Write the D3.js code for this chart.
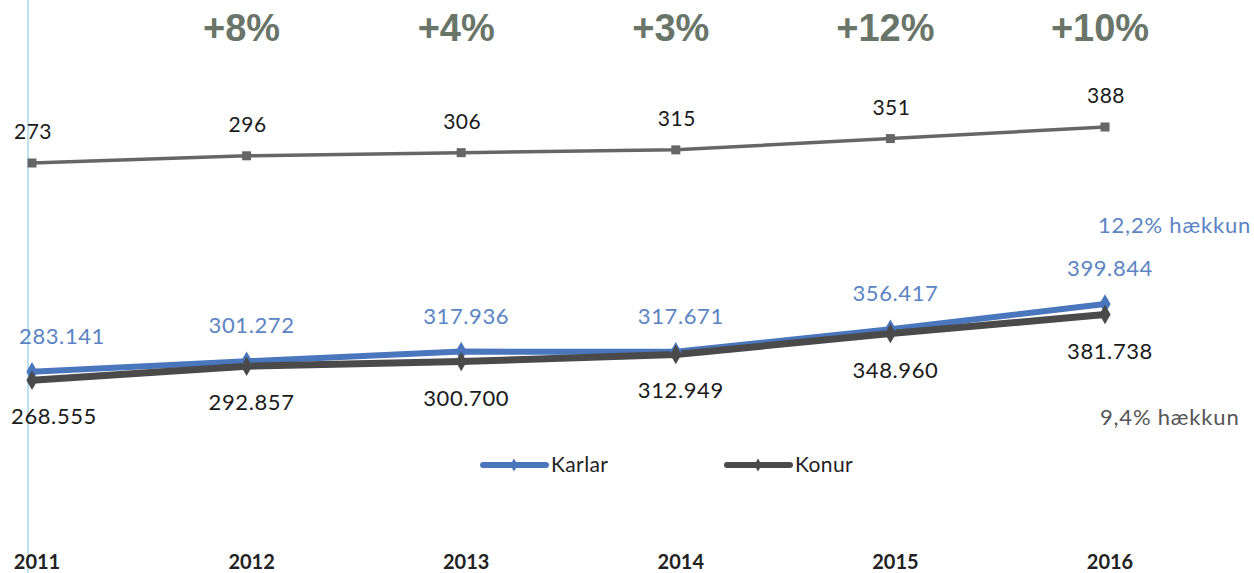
<!DOCTYPE html>
<html><head><meta charset="utf-8">
<script src="https://cdn.jsdelivr.net/npm/d3@7"></script>
<style>body{margin:0;background:#fff}svg{display:block}</style>
</head><body>
<svg id="c" width="1254" height="573"></svg>
<script>
const years = ["2011","2012","2013","2014","2015","2016"];
const topValues = [273,296,306,315,351,388];
const growthLabels = ["+8%","+4%","+3%","+12%","+10%"];
const growthYears = ["2012","2013","2014","2015","2016"];
const karlar = [283.141,301.272,317.936,317.671,356.417,399.844];
const konur = [268.555,292.857,300.700,312.949,348.960,381.738];
const karlarLabels = ["283.141","301.272","317.936","317.671","356.417","399.844"];
const konurLabels = ["268.555","292.857","300.700","312.949","348.960","381.738"];
const seriesNames = ["Karlar","Konur"];
const notes = ["12,2% hækkun","9,4% hækkun"];

const svg = d3.select("#c");
const x = d3.scalePoint().domain(years).range([32,1105]);
const yTop = d3.scaleLinear().domain([273,388]).range([163,127]);
const yLow = d3.scaleLinear().domain([0,400]).range([536,304]);
const font = "Lato, 'Open Sans', sans-serif";
const blue = "#4a76bd", dark = "#4a4a4a", blueTxt = "#5b84c4";

// light blue vertical line
svg.append("line").attr("x1",28).attr("x2",28).attr("y1",0).attr("y2",573)
  .attr("stroke","#a8d8e8").attr("stroke-width",1.5);

// growth labels
svg.selectAll(".g").data(growthLabels).join("text")
  .attr("x",(d,i)=>x(growthYears[i])-5).attr("y",41)
  .attr("text-anchor","middle").attr("font-family","'Liberation Sans', Arial, sans-serif")
  .attr("font-weight","bold").attr("font-size",38).attr("fill","#6a7569").text(d=>d);

// top line
const lineTop = d3.line().x((d,i)=>x(years[i])).y(d=>yTop(d));
svg.append("path").attr("d",lineTop(topValues)).attr("fill","none")
  .attr("stroke","#666").attr("stroke-width",3.5);
svg.selectAll(".tm").data(topValues).join("rect")
  .attr("x",(d,i)=>x(years[i])-4.5).attr("y",d=>yTop(d)-4.5)
  .attr("width",9).attr("height",9).attr("fill","#666");
svg.selectAll(".tl").data(topValues).join("text")
  .attr("x",(d,i)=>x(years[i])+1).attr("y",d=>yTop(d)-24)
  .attr("text-anchor","middle").attr("font-family",font).attr("font-size",21)
  .attr("fill","#1a1a1a").attr("letter-spacing",0.5).text(d=>d);

// lower lines
const lineLow = d3.line().x((d,i)=>x(years[i])).y(d=>yLow(d));
svg.append("path").attr("d",lineLow(karlar)).attr("fill","none")
  .attr("stroke",blue).attr("stroke-width",6).attr("stroke-linejoin","round");
svg.append("path").attr("d",lineLow(konur)).attr("fill","none")
  .attr("stroke",dark).attr("stroke-width",7).attr("stroke-linejoin","round");
const diamond = d3.symbol().type(d3.symbolDiamond).size(110);
svg.selectAll(".km").data(karlar).join("path").attr("d",diamond)
  .attr("transform",(d,i)=>`translate(${x(years[i])},${yLow(d)})`).attr("fill",blue);
svg.selectAll(".nm").data(konur).join("path").attr("d",diamond)
  .attr("transform",(d,i)=>`translate(${x(years[i])},${yLow(d)})`).attr("fill",dark);

function lx(i){ const c = x(years[i])+5; return Math.max(c, 62); }
svg.selectAll(".kl").data(karlar).join("text")
  .attr("x",(d,i)=>lx(i)).attr("y",d=>yLow(d)-28)
  .attr("text-anchor","middle").attr("font-family",font).attr("font-size",22)
  .attr("fill",blueTxt).attr("letter-spacing",0.6).text((d,i)=>karlarLabels[i]);
svg.selectAll(".nl").data(konur).join("text")
  .attr("x",(d,i)=>i===0?54:x(years[i])+5).attr("y",d=>yLow(d)+44)
  .attr("text-anchor","middle").attr("font-family",font).attr("font-size",22)
  .attr("fill","#1a1a1a").attr("letter-spacing",0.6).text((d,i)=>konurLabels[i]);

// notes
svg.append("text").attr("x",1098).attr("y",233).attr("font-family",font)
  .attr("font-size",22).attr("letter-spacing",0.8).attr("fill",blueTxt).text(notes[0]);
svg.append("text").attr("x",1100).attr("y",425).attr("font-family",font)
  .attr("font-size",22).attr("letter-spacing",0.8).attr("fill","#555").text(notes[1]);

// legend
const legX = [483,727], legColors=[blue,dark];
seriesNames.forEach((n,i)=>{
  const g = svg.append("g");
  g.append("line").attr("x1",legX[i]).attr("x2",legX[i]+63).attr("y1",465).attr("y2",465)
    .attr("stroke",legColors[i]).attr("stroke-width",6).attr("stroke-linecap","round");
  g.append("path").attr("d",d3.symbol().type(d3.symbolDiamond).size(50))
    .attr("transform",`translate(${legX[i]+31},465)`).attr("fill",legColors[i]);
  g.append("text").attr("x",legX[i]+68).attr("y",472).attr("font-family",font)
    .attr("font-size",21).attr("letter-spacing",0.4).attr("fill","#222").text(n);
});

// x axis labels
svg.selectAll(".xl").data(years).join("text")
  .attr("x",d=>x(d)+5).attr("y",569).attr("text-anchor","middle")
  .attr("font-family",font).attr("font-weight","bold").attr("font-size",20)
  .attr("fill","#222").text(d=>d);
</script>
</body></html>
